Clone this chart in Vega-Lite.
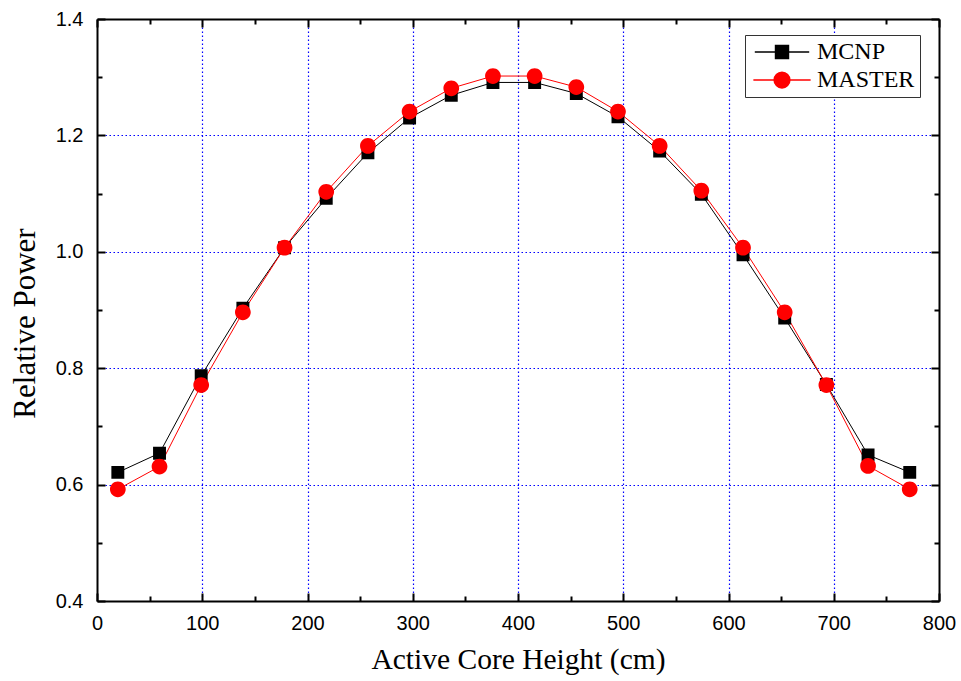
{
  "$schema": "https://vega.github.io/schema/vega-lite/v6.json",
  "width": 842,
  "height": 582,
  "autosize": {"type": "none"},
  "padding": {"left": 97, "top": 19, "right": 22, "bottom": 80},
  "background": "white",
  "config": {
    "view": {"stroke": null},
    "font": "Liberation Sans",
    "axis": {
      "domainColor": "black",
      "domainWidth": 2,
      "tickColor": "black",
      "tickWidth": 2,
      "labelFont": "Liberation Sans",
      "labelFontSize": 20,
      "labelColor": "black",
      "labelFlush": false,
      "titleFont": "Liberation Serif",
      "titleFontSize": 29.5,
      "titleFontWeight": "normal",
      "titleColor": "black",
      "gridColor": "#0000ff",
      "gridDash": [1.5, 2.5],
      "gridWidth": 1.2
    },
    "legend": {
      "orient": "none",
      "legendX": 648,
      "legendY": 16,
      "padding": 5,
      "strokeColor": "#333",
      "fillColor": "white",
      "labelFont": "Liberation Serif",
      "labelFontSize": 24,
      "labelColor": "black",
      "symbolSize": 196,
      "symbolOffset": 20,
      "labelOffset": 23,
      "rowPadding": 4
    }
  },
  "data": {
    "values": [
      {"series": "MCNP", "height": 19.8, "power": 0.621},
      {"series": "MCNP", "height": 59.4, "power": 0.654},
      {"series": "MCNP", "height": 99.0, "power": 0.787},
      {"series": "MCNP", "height": 138.6, "power": 0.903},
      {"series": "MCNP", "height": 178.2, "power": 1.007},
      {"series": "MCNP", "height": 217.8, "power": 1.092},
      {"series": "MCNP", "height": 257.4, "power": 1.170},
      {"series": "MCNP", "height": 297.0, "power": 1.230},
      {"series": "MCNP", "height": 336.6, "power": 1.269},
      {"series": "MCNP", "height": 376.2, "power": 1.291},
      {"series": "MCNP", "height": 415.8, "power": 1.291},
      {"series": "MCNP", "height": 455.4, "power": 1.272},
      {"series": "MCNP", "height": 495.0, "power": 1.232},
      {"series": "MCNP", "height": 534.6, "power": 1.173},
      {"series": "MCNP", "height": 574.2, "power": 1.099},
      {"series": "MCNP", "height": 613.8, "power": 0.995},
      {"series": "MCNP", "height": 653.4, "power": 0.886},
      {"series": "MCNP", "height": 693.0, "power": 0.772},
      {"series": "MCNP", "height": 732.6, "power": 0.651},
      {"series": "MCNP", "height": 772.2, "power": 0.621},
      {"series": "MASTER", "height": 19.8, "power": 0.592},
      {"series": "MASTER", "height": 59.4, "power": 0.631},
      {"series": "MASTER", "height": 99.0, "power": 0.771},
      {"series": "MASTER", "height": 138.6, "power": 0.896},
      {"series": "MASTER", "height": 178.2, "power": 1.007},
      {"series": "MASTER", "height": 217.8, "power": 1.103},
      {"series": "MASTER", "height": 257.4, "power": 1.182},
      {"series": "MASTER", "height": 297.0, "power": 1.241},
      {"series": "MASTER", "height": 336.6, "power": 1.281},
      {"series": "MASTER", "height": 376.2, "power": 1.302},
      {"series": "MASTER", "height": 415.8, "power": 1.302},
      {"series": "MASTER", "height": 455.4, "power": 1.283},
      {"series": "MASTER", "height": 495.0, "power": 1.241},
      {"series": "MASTER", "height": 534.6, "power": 1.182},
      {"series": "MASTER", "height": 574.2, "power": 1.105},
      {"series": "MASTER", "height": 613.8, "power": 1.007},
      {"series": "MASTER", "height": 653.4, "power": 0.896},
      {"series": "MASTER", "height": 693.0, "power": 0.771},
      {"series": "MASTER", "height": 732.6, "power": 0.632},
      {"series": "MASTER", "height": 772.2, "power": 0.592}
    ]
  },
  "resolve": {"axis": {"x": "independent", "y": "independent"}},
  "layer": [
    {
      "mark": {"type": "line", "strokeWidth": 1},
      "encoding": {
        "x": {
          "field": "height", "type": "quantitative",
          "scale": {"domain": [0, 800], "nice": false, "zero": false},
          "axis": {
            "orient": "bottom",
            "title": "Active Core Height (cm)",
            "values": [0, 50, 100, 150, 200, 250, 300, 350, 400, 450, 500, 550, 600, 650, 700, 750, 800],
            "labelExpr": "datum.value % 100 === 0 ? datum.label : ''",
            "tickSize": {"condition": {"test": "datum.value % 100 === 0", "value": -8}, "value": -5},
            "labelPadding": 20,
            "titlePadding": 12,
            "grid": true,
            "gridOpacity": {"condition": {"test": "datum.value % 100 === 0 && datum.value > 0 && datum.value < 800", "value": 1}, "value": 0}
          }
        },
        "y": {
          "field": "power", "type": "quantitative",
          "scale": {"domain": [0.4, 1.4], "nice": false, "zero": false},
          "axis": {
            "orient": "left",
            "title": "Relative Power",
            "titleFontSize": 31,
            "titleY": 304,
            "values": [0.4, 0.5, 0.6, 0.7, 0.8, 0.9, 1.0, 1.1, 1.2, 1.3, 1.4],
            "format": ".1f",
            "labelExpr": "round(datum.value * 10) % 2 === 0 ? datum.label : ''",
            "tickSize": {"condition": {"test": "round(datum.value * 10) % 2 === 0", "value": -8}, "value": -5},
            "labelPadding": 22,
            "titlePadding": 14,
            "grid": true,
            "gridOpacity": {"condition": {"test": "round(datum.value * 10) % 2 === 0 && datum.value > 0.45 && datum.value < 1.35", "value": 1}, "value": 0}
          }
        },
        "color": {
          "field": "series", "type": "nominal",
          "scale": {"domain": ["MCNP", "MASTER"], "range": ["black", "red"]}
        },
        "order": {"field": "height"}
      }
    },
    {
      "mark": {"type": "point", "filled": true, "opacity": 1},
      "encoding": {
        "x": {
          "field": "height", "type": "quantitative",
          "scale": {"domain": [0, 800], "nice": false, "zero": false},
          "axis": {
            "orient": "top",
            "title": null,
            "labels": false,
            "values": [0, 50, 100, 150, 200, 250, 300, 350, 400, 450, 500, 550, 600, 650, 700, 750, 800],
            "tickSize": {"condition": {"test": "datum.value % 100 === 0", "value": -8}, "value": -5},
            "grid": false
          }
        },
        "y": {
          "field": "power", "type": "quantitative",
          "scale": {"domain": [0.4, 1.4], "nice": false, "zero": false},
          "axis": {
            "orient": "right",
            "title": null,
            "labels": false,
            "values": [0.4, 0.5, 0.6, 0.7, 0.8, 0.9, 1.0, 1.1, 1.2, 1.3, 1.4],
            "tickSize": {"condition": {"test": "round(datum.value * 10) % 2 === 0", "value": -8}, "value": -5},
            "grid": false
          }
        },
        "color": {
          "field": "series", "type": "nominal",
          "scale": {"domain": ["MCNP", "MASTER"], "range": ["black", "red"]},
          "legend": {
            "title": null,
            "encode": {
              "symbols": {
                "update": {
                  "stroke": {"signal": "datum.value === 'MCNP' ? 'black' : 'red'"},
                  "strokeWidth": {"value": 1},
                  "opacity": {"value": 1}
                }
              }
            }
          }
        },
        "shape": {
          "field": "series", "type": "nominal",
          "scale": {"domain": ["MCNP", "MASTER"], "range": ["M-4,0H4M-0.95,-0.95H0.95V0.95H-0.95Z", "M-4,0H4M1.1,0A1.1,1.1,0,1,1,-1.1,0A1.1,1.1,0,1,1,1.1,0Z"]},
          "legend": null
        },
        "size": {
          "field": "series", "type": "nominal",
          "scale": {"domain": ["MCNP", "MASTER"], "range": [185, 205]},
          "legend": null
        }
      }
    }
  ]
}
